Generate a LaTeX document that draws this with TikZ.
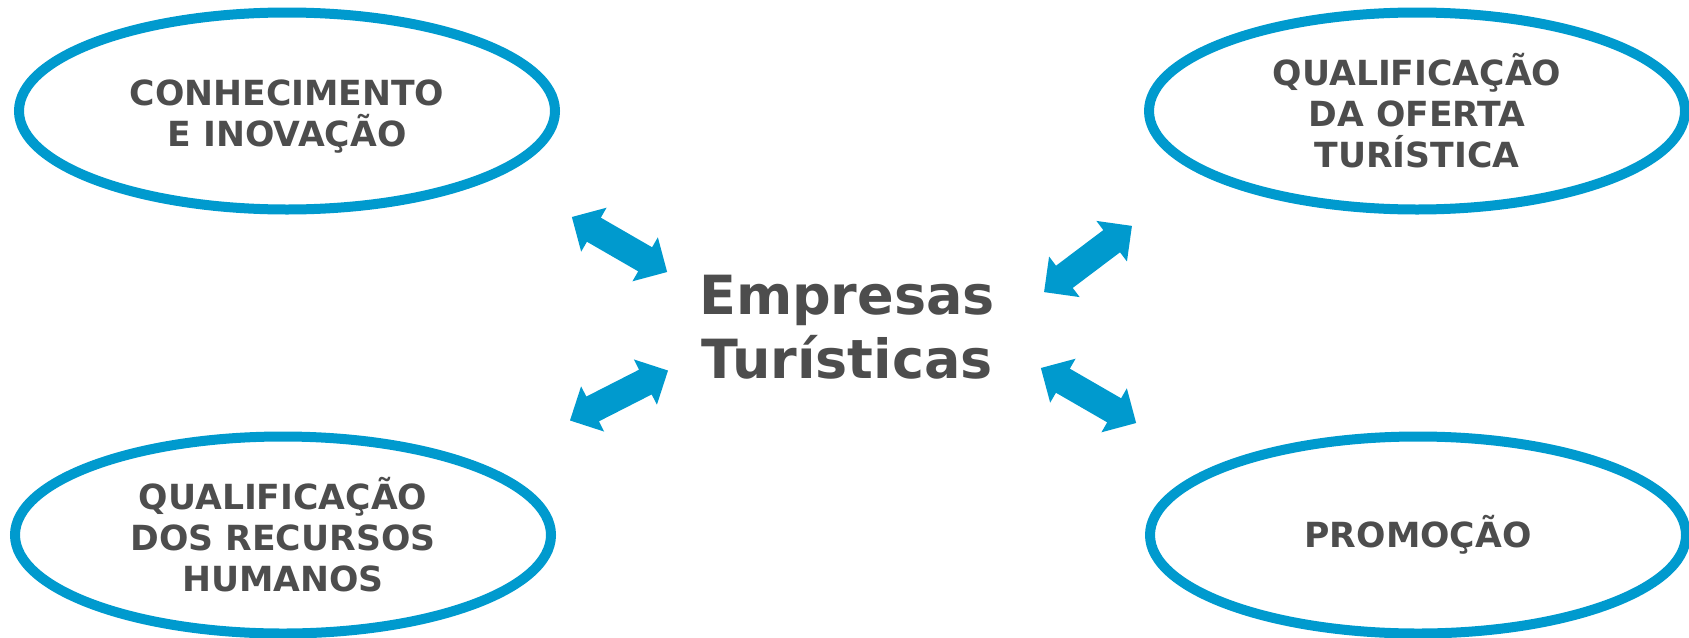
\documentclass[tikz,border=0pt]{standalone}
\usepackage{fontspec}
\setmainfont{DejaVu Sans}
\usetikzlibrary{shapes.geometric,shapes.arrows}
\definecolor{azul}{RGB}{0,154,206}
\definecolor{cinza}{RGB}{77,77,77}

\begin{document}
\begin{tikzpicture}[x=0.5pt, y=-0.5pt,
  eixo/.style={draw=azul, line width=5pt, ellipse, minimum width=268pt, minimum height=98.5pt, inner sep=0pt, text=cinza, font=\bfseries\fontsize{17.3}{20.5}\selectfont, align=center},
  seta/.style={double arrow, fill=azul, draw=none, minimum height=55pt, double arrow head extend=5.75pt, inner xsep=0pt, inner ysep=6.75pt}]
\useasboundingbox (0,0) rectangle (1689,637);
\node (emp) at (847,327) [text=cinza, font=\bfseries\fontsize{27}{32}\selectfont, align=center] {Empresas\\Turísticas};
\node (conh) at (287,111) [eixo, text height=39pt] {CONHECIMENTO\\E INOVAÇÃO};
\node (oferta) at (1417,111) [eixo] {QUALIFICAÇÃO\\DA OFERTA\\TURÍSTICA};
\node (rh) at (283,535) [eixo] {QUALIFICAÇÃO\\DOS RECURSOS\\HUMANOS};
\node (promo) at (1418,535) [eixo] {PROMOÇÃO};
\node (s1) at (619.5,244.5) [seta, rotate=-30] {};
\node (s2) at (1088,259) [seta, rotate=37] {};
\node (s3) at (619,395.5) [seta, rotate=27] {};
\node (s4) at (1088.5,395.5) [seta, rotate=-30] {};
\end{tikzpicture}
\end{document}
